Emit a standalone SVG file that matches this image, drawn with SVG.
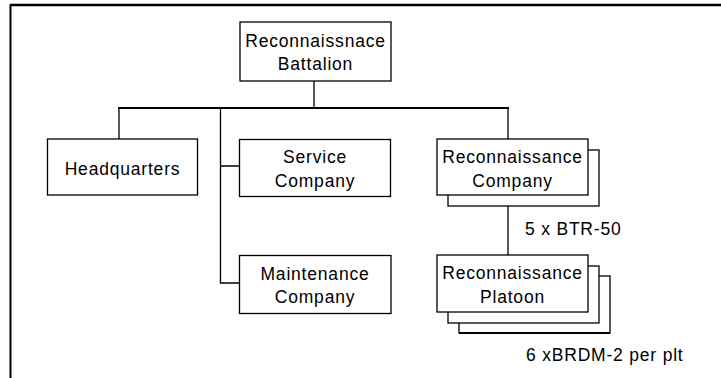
<svg xmlns="http://www.w3.org/2000/svg" width="721" height="378" viewBox="0 0 721 378">
<style>
.box{fill:#fff;stroke:#000;stroke-width:1.3}
.ln{stroke:#000;stroke-width:1.3;fill:none}
.t{font-family:"Liberation Sans",Arial,sans-serif;font-size:17.5px;letter-spacing:0.8px;fill:#000;text-anchor:middle}
.l{font-family:"Liberation Sans",Arial,sans-serif;font-size:17.5px;letter-spacing:0.8px;fill:#000}
</style>
<rect width="721" height="378" fill="#fff"/>
<g id="frame">
<line x1="10" y1="5" x2="721" y2="5" stroke="#000" stroke-width="2.5"/>
<line x1="10.5" y1="4" x2="10.5" y2="378" stroke="#000" stroke-width="2"/>
</g>
<g id="connectors">
<line class="ln" x1="314" y1="81" x2="314" y2="108"/>
<line x1="118" y1="108" x2="509" y2="108" stroke="#000" stroke-width="2"/>
<line class="ln" x1="119" y1="108" x2="119" y2="139"/>
<path class="ln" d="M220.5 108 V283 H239 M220.5 166 H239"/>
<line class="ln" x1="508" y1="108" x2="508" y2="139"/>
<line class="ln" x1="508" y1="206" x2="508" y2="255"/>
</g>
<g id="battalion">
<rect class="box" x="240" y="22" width="151" height="59"/>
<text class="t" x="315.5" y="46.5">Reconnaissnace</text>
<text class="t" x="315.5" y="69.5">Battalion</text>
</g>
<g id="headquarters">
<rect class="box" x="47.5" y="139" width="150" height="56"/>
<text class="t" x="122.5" y="175">Headquarters</text>
</g>
<g id="service">
<rect class="box" x="239.5" y="139.5" width="151" height="57"/>
<text class="t" x="315" y="163">Service</text>
<text class="t" x="315" y="187">Company</text>
</g>
<g id="maintenance">
<rect class="box" x="239.5" y="255.5" width="151.5" height="58"/>
<text class="t" x="315" y="280">Maintenance</text>
<text class="t" x="315" y="303">Company</text>
</g>
<g id="recon-company">
<rect class="box" x="448" y="150" width="151" height="56"/>
<rect class="box" x="437" y="139" width="151" height="56"/>
<text class="t" x="512.5" y="163">Reconnaissance</text>
<text class="t" x="512.5" y="187">Company</text>
</g>
<g id="recon-platoon">
<rect class="box" x="459" y="276" width="151" height="57"/>
<line x1="459" y1="333" x2="610" y2="333" stroke="#000" stroke-width="2.2"/>
<rect class="box" x="448" y="266" width="151" height="57"/>
<rect class="box" x="437" y="255" width="151" height="57"/>
<text class="t" x="512.5" y="279">Reconnaissance</text>
<text class="t" x="512.5" y="303">Platoon</text>
</g>
<g id="labels">
<text class="l" x="525" y="235">5 x BTR-50</text>
<text class="l" x="526" y="361">6 xBRDM-2 per plt</text>
</g>
</svg>
